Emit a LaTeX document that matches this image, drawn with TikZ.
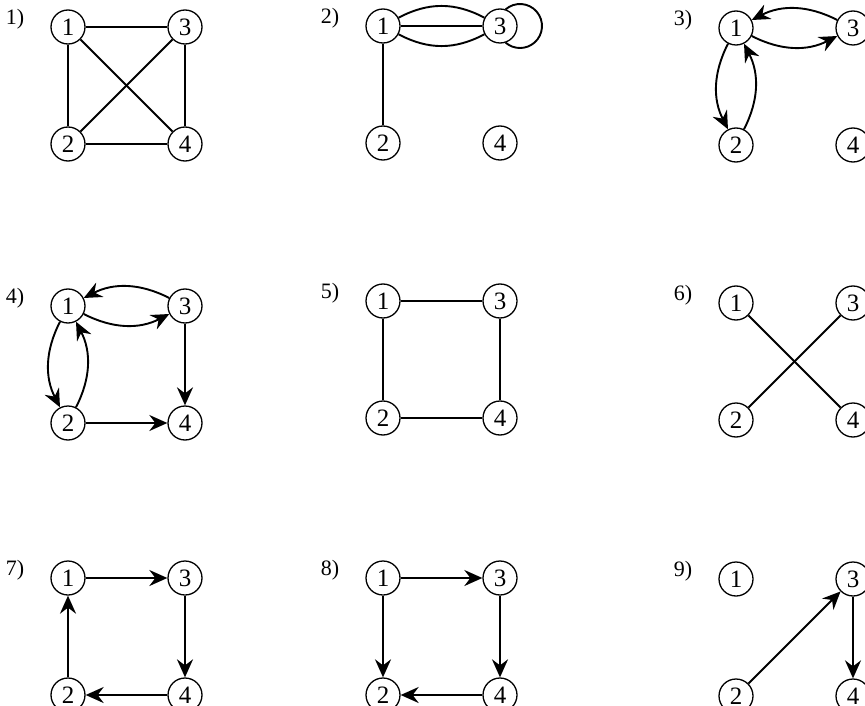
\documentclass[tikz,border=0pt]{standalone}
\usepackage{fontspec}
\setmainfont{Liberation Serif}
\usetikzlibrary{arrows.meta}
% one panel: four vertices on a square, with its number to the upper left
\newcommand{\vpanel}[4]{%
  \node[tag] (#1-tag) at (#2-53,#3+8) {#4)};
  \node[vtx] (#1-1) at (#2,#3) {1};
  \node[vtx] (#1-3) at (#2+117,#3) {3};
  \node[vtx] (#1-2) at (#2,#3-117) {2};
  \node[vtx] (#1-4) at (#2+117,#3-117) {4};}
\begin{document}
\begin{tikzpicture}[x=1pt,y=1pt,
  vtx/.style={circle,draw,line width=1.3pt,minimum size=34pt,inner sep=0pt,
              font=\fontsize{25}{29}\selectfont},
  tag/.style={inner sep=0pt,font=\fontsize{22}{26}\selectfont},
  edge/.style={line width=1.9pt},
  arc/.style={line width=1.9pt,-{Stealth[length=18pt,width=16pt,inset=6pt]}},
]
\useasboundingbox (0,0) rectangle (865,-706);

% row 1
\vpanel{a}{68}{-27}{1}
\vpanel{b}{383}{-26}{2}
\vpanel{c}{736}{-28}{3}
% row 2
\vpanel{d}{68}{-306}{4}
\vpanel{e}{383}{-301}{5}
\vpanel{f}{736}{-303}{6}
% row 3
\vpanel{g}{68}{-578}{7}
\vpanel{h}{383}{-578}{8}
\vpanel{i}{736}{-579}{9}

% 1) complete graph
\draw[edge] (a-1) -- (a-3);
\draw[edge] (a-1) -- (a-2);
\draw[edge] (a-1) -- (a-4);
\draw[edge] (a-3) -- (a-2);
\draw[edge] (a-3) -- (a-4);
\draw[edge] (a-2) -- (a-4);

% 2) multigraph with a loop
\draw[edge] (b-1) -- (b-3);
\draw[edge] (b-1) to[bend left=28] (b-3);
\draw[edge] (b-1) to[bend right=28] (b-3);
\draw[edge] (b-3.center) ++(20,0) ++(131:22) arc[start angle=131,end angle=-131,radius=22];
\draw[edge] (b-1) -- (b-2);

% 3) digraph with two pairs of opposite arcs
\draw[arc] (c-3) to[bend right=27] (c-1);
\draw[arc] (c-1) to[bend right=27] (c-3);
\draw[arc] (c-1) to[bend right=27] (c-2);
\draw[arc] (c-2) to[bend right=27] (c-1);

% 4)
\draw[arc] (d-3) to[bend right=27] (d-1);
\draw[arc] (d-1) to[bend right=27] (d-3);
\draw[arc] (d-1) to[bend right=27] (d-2);
\draw[arc] (d-2) to[bend right=27] (d-1);
\draw[arc] (d-3) -- (d-4);
\draw[arc] (d-2) -- (d-4);

% 5) cycle
\draw[edge] (e-1) -- (e-3);
\draw[edge] (e-1) -- (e-2);
\draw[edge] (e-3) -- (e-4);
\draw[edge] (e-2) -- (e-4);

% 6) two crossing edges
\draw[edge] (f-1) -- (f-4);
\draw[edge] (f-2) -- (f-3);

% 7) directed cycle
\draw[arc] (g-1) -- (g-3);
\draw[arc] (g-3) -- (g-4);
\draw[arc] (g-4) -- (g-2);
\draw[arc] (g-2) -- (g-1);

% 8)
\draw[arc] (h-1) -- (h-3);
\draw[arc] (h-1) -- (h-2);
\draw[arc] (h-3) -- (h-4);
\draw[arc] (h-4) -- (h-2);

% 9)
\draw[arc] (i-2) -- (i-3);
\draw[arc] (i-3) -- (i-4);
\end{tikzpicture}
\end{document}
